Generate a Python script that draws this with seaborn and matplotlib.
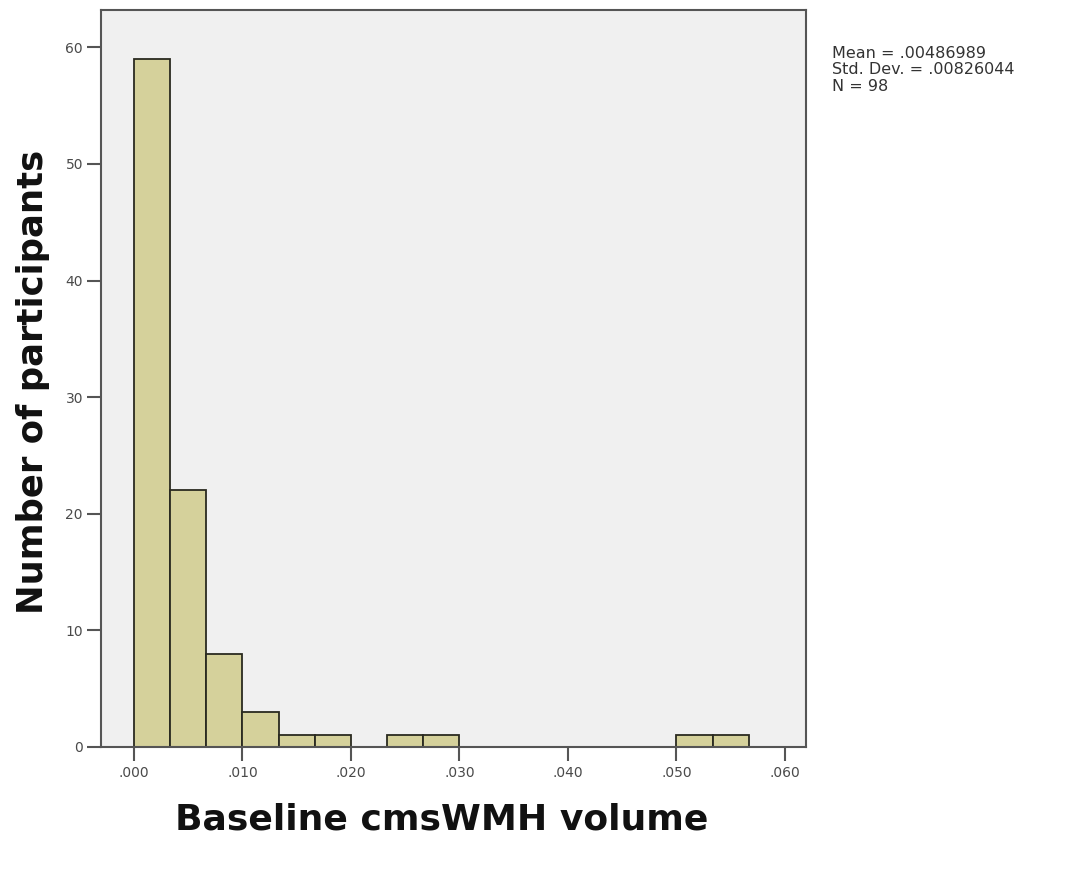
import pandas as pd
import matplotlib
matplotlib.use("Agg")
import matplotlib.pyplot as plt
import seaborn as sns

# Histogram of baseline cmsWMH volume (bin width .00333)
bin_width = 0.01 / 3
counts = [59, 22, 8, 3, 1, 1, 0, 1, 1, 0, 0, 0, 0, 0, 0, 1, 1]
x_ticks = [0.0, 0.01, 0.02, 0.03, 0.04, 0.05, 0.06]
x_tick_labels = [".000", ".010", ".020", ".030", ".040", ".050", ".060"]
y_ticks = [0, 10, 20, 30, 40, 50, 60]
stats_text = "Mean = .00486989\nStd. Dev. = .00826044\nN = 98"

sns.set_theme(style="white")
plt.rcParams["font.family"] = ["DejaVu Sans"]

edges = [i * bin_width for i in range(len(counts) + 1)]
df = pd.DataFrame({"volume": [e + bin_width / 2 for e in edges[:-1]], "n": counts})

fig = plt.figure(figsize=(10.9, 8.77), dpi=100)
ax = fig.add_axes([101 / 1090, 1 - 747 / 877, (806 - 101) / 1090, (747 - 10) / 877])
ax.set_facecolor("#f0f0f0")

sns.histplot(data=df, x="volume", weights="n", bins=edges, ax=ax,
             color="#d5d19b", alpha=1.0, edgecolor="#2a2a20", linewidth=1.3)

ax.set_xlim(-0.00304, 0.06194)
ax.set_ylim(0, 63.2)
ax.set_xticks(x_ticks)
ax.set_xticklabels(x_tick_labels)
ax.set_yticks(y_ticks)
ax.tick_params(axis="both", which="both", direction="out", length=10, width=1.5,
               color="#555555", labelcolor="#4a4a4a", labelsize=10, pad=3,
               bottom=True, left=True)
ax.tick_params(axis="x", pad=4)
for s in ax.spines.values():
    s.set_color("#555555")
    s.set_linewidth(1.5)
    s.set_visible(True)

ax.set_xlabel("Baseline cmsWMH volume", fontsize=26, fontweight="bold", color="#111111")
ax.xaxis.label.set_va("baseline")
ax.xaxis.set_label_coords(0.483, -0.1126)

ax.set_ylabel("Number of participants", fontsize=25.5, fontweight="bold", color="#111111")
ax.yaxis.label.set_va("center")
ax.yaxis.set_label_coords(-0.0965, 0.495)

fig.text(832 / 1090, 1 - 46 / 877, stats_text, fontsize=11.5, color="#333333",
         va="top", ha="left", linespacing=1.12)

fig.savefig("out.png", dpi=100, facecolor="white")
